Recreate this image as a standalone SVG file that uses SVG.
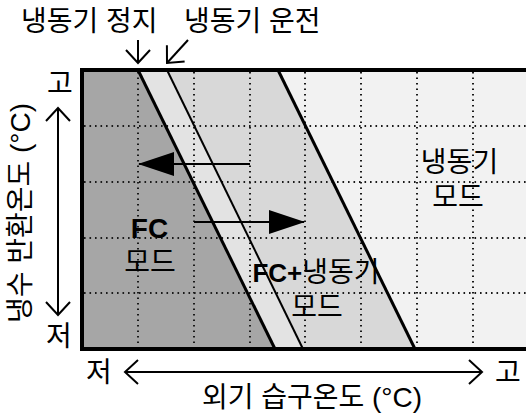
<svg xmlns="http://www.w3.org/2000/svg" width="526" height="415" viewBox="0 0 526 415">
<defs>
<style>
text{font-family:"Liberation Sans","Noto Sans CJK KR",sans-serif;font-size:28px;fill:#000}
.b{font-weight:bold}
.grid{stroke:#1a1a1a;stroke-width:2;stroke-dasharray:1.6 3.9;fill:none}
.bd{stroke:#000;fill:none}
.ln{stroke:#000;stroke-width:2;fill:none}
</style>
<marker id="tri" markerUnits="userSpaceOnUse" markerWidth="36" markerHeight="24" viewBox="0 0 36 24" refX="35" refY="12" orient="auto">
<path d="M0,0 L36,12 L0,24 Z" fill="#000"/>
</marker>
<marker id="chev" markerUnits="userSpaceOnUse" markerWidth="20" markerHeight="30" viewBox="-3 -3 20 30" refX="13" refY="12" orient="auto-start-reverse">
<path d="M0,0 L13,12 L0,24" fill="none" stroke="#000" stroke-width="2"/>
</marker>
</defs>
<rect width="526" height="415" fill="#fff"/>
<g id="regions">
<polygon points="82,70 530,70 530,349 82,349" fill="#f2f2f2"/>
<polygon points="82,70 278,70 415,349 82,349" fill="#d8d8d8"/>
<polygon points="82,70 167,70 303,349 82,349" fill="#e3e3e3"/>
<polygon points="82,70 138,70 275,349 82,349" fill="#a6a6a6"/>
</g>
<g id="grid">
<path class="grid" d="M138,72V347M194,72V347M250,72V347M305,72V347M361,72V347M417,72V347M473,72V347"/>
<path class="grid" d="M84,126H526M84,182H526M84,238H526M84,293H526"/>
</g>
<g id="boundaries">
<line class="bd" x1="138" y1="70" x2="275" y2="349" stroke-width="3"/>
<line class="bd" x1="167" y1="70" x2="303" y2="349" stroke-width="2"/>
<line class="bd" x1="278" y1="70" x2="415" y2="349" stroke-width="3"/>
</g>
<g id="frame">
<rect x="82" y="70" width="460" height="279" fill="none" stroke="#000" stroke-width="4"/>
</g>
<g id="connectors">
<line class="ln" x1="250" y1="164" x2="139" y2="164" marker-end="url(#tri)"/>
<line class="ln" x1="194" y1="222" x2="304" y2="222" marker-end="url(#tri)"/>
<line class="ln" x1="138" y1="40" x2="138" y2="63" marker-end="url(#chev)"/>
<line class="ln" x1="188" y1="40" x2="167" y2="63" marker-end="url(#chev)"/>
<line class="ln" x1="58" y1="108" x2="58" y2="315" marker-start="url(#chev)" marker-end="url(#chev)"/>
<line class="ln" x1="125" y1="372" x2="482" y2="372" marker-start="url(#chev)" marker-end="url(#chev)"/>
</g>
<g id="label-stop"><text x="21" y="31">냉동기 정지</text></g>
<g id="label-run"><text x="184" y="31">냉동기 운전</text></g>
<g id="node-fc">
<text class="b" x="149.5" y="238" text-anchor="middle" font-size="26">FC</text>
<text x="150" y="272" text-anchor="middle">모드</text>
</g>
<g id="node-fc-chiller">
<text x="316" y="282" text-anchor="middle"><tspan class="b" font-size="26">FC+</tspan>냉동기</text>
<text x="317" y="317" text-anchor="middle">모드</text>
</g>
<g id="node-chiller">
<text x="459.5" y="172" text-anchor="middle">냉동기</text>
<text x="458" y="207" text-anchor="middle">모드</text>
</g>
<g id="y-axis">
<text x="60" y="93" text-anchor="middle">고</text>
<text x="59" y="346" text-anchor="middle">저</text>
<text transform="translate(30,213) rotate(-90)" text-anchor="middle">냉수 반환온도 (°C)</text>
</g>
<g id="x-axis">
<text x="99" y="382" text-anchor="middle">저</text>
<text x="508" y="382" text-anchor="middle">고</text>
<text x="312" y="407" text-anchor="middle">외기 습구온도 (°C)</text>
</g>
</svg>
